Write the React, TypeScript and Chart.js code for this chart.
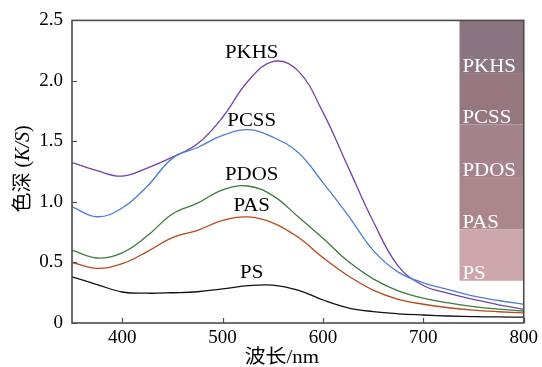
import React, { useEffect, useRef } from "react";
import { Chart, registerables } from "chart.js";

Chart.register(...registerables);

const wavelengths = [350, 375, 400, 425, 450, 475, 500, 525, 550, 575, 600, 625, 650, 675, 700, 725, 750, 775, 800];
const psValues = [0.382, 0.318, 0.256, 0.246, 0.25, 0.258, 0.282, 0.308, 0.313, 0.272, 0.19, 0.125, 0.094, 0.076, 0.066, 0.058, 0.053, 0.05, 0.048];
const pasValues = [0.5, 0.452, 0.49, 0.59, 0.705, 0.765, 0.848, 0.876, 0.828, 0.71, 0.54, 0.39, 0.272, 0.196, 0.155, 0.126, 0.106, 0.093, 0.083];
const pdosValues = [0.602, 0.537, 0.58, 0.72, 0.9, 0.99, 1.1, 1.132, 1.052, 0.88, 0.7, 0.51, 0.365, 0.266, 0.205, 0.166, 0.136, 0.115, 0.099];
const pcssValues = [0.96, 0.878, 0.95, 1.13, 1.36, 1.45, 1.55, 1.597, 1.535, 1.41, 1.16, 0.89, 0.6, 0.42, 0.332, 0.276, 0.222, 0.186, 0.154];
const pkhsValues = [1.326, 1.258, 1.213, 1.28, 1.37, 1.48, 1.7, 1.995, 2.16, 2.085, 1.74, 1.29, 0.84, 0.47, 0.31, 0.245, 0.196, 0.15, 0.113];

const seriesNames = ["PS", "PAS", "PDOS", "PCSS", "PKHS"];
const seriesColors = ["#111111", "#b84a1c", "#3e7b3e", "#4a7fd6", "#7443a6"];
const seriesValues = [psValues, pasValues, pdosValues, pcssValues, pkhsValues];

// curve label anchors (wavelength, K/S at text baseline)
const labelX = [529, 529, 529, 529, 529];
const labelY = [0.369, 0.927, 1.18, 1.625, 2.19];

const xTicks = [400, 500, 600, 700, 800];
const yTicks = [0, 0.5, 1.0, 1.5, 2.0, 2.5];

// colour swatches on the right
const swatchNames = ["PKHS", "PCSS", "PDOS", "PAS", "PS"];
const swatchColors = ["#8a7581", "#97777f", "#a4848a", "#ab878c", "#cca6aa"];
const swatchRangeX = [736, 800];
const swatchTop = [2.5, 2.065, 1.639, 1.206, 0.773];
const swatchBottom = [2.065, 1.639, 1.206, 0.773, 0.349];

const SERIF = '"Liberation Serif", "Noto Sans CJK SC", serif';

function drawText(ctx: CanvasRenderingContext2D, text: string, x: number, y: number, font: string, align: CanvasTextAlign, color: string, sx = 1.1) {
  ctx.save();
  ctx.font = font;
  ctx.fillStyle = color;
  ctx.textBaseline = "alphabetic";
  const w = ctx.measureText(text).width * sx;
  let x0 = x;
  if (align === "center") x0 = x - w / 2;
  else if (align === "right") x0 = x - w;
  ctx.translate(x0, y);
  ctx.scale(sx, 1);
  ctx.textAlign = "left";
  ctx.fillText(text, 0, 0);
  ctx.restore();
}

const overlayPlugin = {
  id: "overlay",
  beforeDatasetsDraw(chart: any) {
    const { ctx } = chart;
    const xs = chart.scales.x;
    const ys = chart.scales.y;
    const x0 = xs.getPixelForValue(swatchRangeX[0]);
    const x1 = xs.getPixelForValue(swatchRangeX[1]);
    swatchNames.forEach((name, i) => {
      const t = ys.getPixelForValue(swatchTop[i]);
      const b = ys.getPixelForValue(swatchBottom[i]);
      ctx.save();
      ctx.fillStyle = swatchColors[i];
      ctx.fillRect(x0, t, x1 - x0, b - t);
      ctx.restore();
      drawText(ctx, name, x0 + 3, b - 1.5, `19px ${SERIF}`, "left", "#ffffff");
    });
  },
  afterDraw(chart: any) {
    const { ctx, chartArea } = chart;
    const xs = chart.scales.x;
    const ys = chart.scales.y;
    // curve labels
    seriesNames.forEach((name, i) => {
      drawText(ctx, name, xs.getPixelForValue(labelX[i]), ys.getPixelForValue(labelY[i]), `19px ${SERIF}`, "center", "#000000");
    });
    // frame
    ctx.save();
    ctx.strokeStyle = "#4d4d4d";
    ctx.lineWidth = 1.6;
    ctx.strokeRect(chartArea.left, chartArea.top, chartArea.right - chartArea.left, chartArea.bottom - chartArea.top);
    // inward tick marks
    ctx.lineWidth = 1.2;
    ctx.beginPath();
    xTicks.forEach((v) => {
      const px = Math.round(xs.getPixelForValue(v)) + 0.5;
      ctx.moveTo(px, chartArea.bottom);
      ctx.lineTo(px, chartArea.bottom - 5);
    });
    yTicks.forEach((v) => {
      const py = Math.round(ys.getPixelForValue(v)) + 0.5;
      ctx.moveTo(chartArea.left, py);
      ctx.lineTo(chartArea.left + 5, py);
    });
    ctx.stroke();
    ctx.restore();
    // x title
    drawText(ctx, "波长/nm", (chartArea.left + chartArea.right) / 2 - 16, 363, `19px ${SERIF}`, "center", "#000000");
    // y title with italic K/S
    ctx.save();
    ctx.translate(29, 169);
    ctx.rotate(-Math.PI / 2);
    const parts = [
      { t: "色深 (", f: `20px ${SERIF}` },
      { t: "K/S", f: `italic 20px ${SERIF}` },
      { t: ")", f: `20px ${SERIF}` },
    ];
    let total = 0;
    parts.forEach((p) => {
      ctx.font = p.f;
      total += ctx.measureText(p.t).width;
    });
    let cx = -total / 2;
    ctx.fillStyle = "#000000";
    ctx.textBaseline = "alphabetic";
    parts.forEach((p) => {
      ctx.font = p.f;
      ctx.fillText(p.t, cx, 0);
      cx += ctx.measureText(p.t).width;
    });
    ctx.restore();
  },
};

export default function App() {
  const canvasRef = useRef<HTMLCanvasElement | null>(null);

  useEffect(() => {
    if (!canvasRef.current) return;
    const chart = new Chart(canvasRef.current, {
      type: "line",
      data: {
        datasets: seriesNames.map((name, i) => ({
          label: name,
          data: wavelengths.map((w, j) => ({ x: w, y: seriesValues[i][j] })),
          borderColor: seriesColors[i],
          backgroundColor: seriesColors[i],
          borderWidth: 1.3,
          pointRadius: 0,
          fill: false,
          tension: 0.4,
        })),
      },
      options: {
        responsive: false,
        animation: false,
        layout: { padding: { top: 20, right: 16, left: 0, bottom: 0 } },
        plugins: {
          legend: { display: false },
          tooltip: { enabled: false },
        },
        scales: {
          x: {
            type: "linear",
            min: 350,
            max: 800,
            afterBuildTicks: (scale: any) => {
              scale.ticks = xTicks.map((v) => ({ value: v }));
            },
            afterFit: (scale: any) => {
              scale.height = 44;
            },
            grid: { display: false, drawTicks: false },
            border: { display: false },
            ticks: {
              padding: 4,
              color: "#000000",
              font: { family: SERIF, size: 19 },
              maxRotation: 0,
              autoSkip: false,
            },
          },
          y: {
            type: "linear",
            min: 0,
            max: 2.5,
            afterBuildTicks: (scale: any) => {
              scale.ticks = yTicks.map((v) => ({ value: v }));
            },
            afterFit: (scale: any) => {
              scale.width = 72;
            },
            grid: { display: false, drawTicks: false },
            border: { display: false },
            ticks: {
              padding: 9,
              color: "#000000",
              font: { family: SERIF, size: 19 },
              autoSkip: false,
              callback: (v: any) => (Number(v) === 0 ? "0" : Number(v).toFixed(1)),
            },
          },
        },
      },
      plugins: [overlayPlugin],
    });
    let alive = true;
    const fonts = (document as any).fonts;
    if (fonts && fonts.load) {
      Promise.all([
        fonts.load('19px "Liberation Serif"'),
        fonts.load('italic 20px "Liberation Serif"'),
        fonts.load('20px "Noto Sans CJK SC"', "色深波长"),
      ])
        .then(() => {
          if (alive) chart.update();
        })
        .catch(() => {});
    }
    return () => {
      alive = false;
      chart.destroy();
    };
  }, []);

  return (
    <div style={{ position: "fixed", left: 0, top: 0, width: 542, height: 367, background: "#ffffff" }}>
      <canvas ref={canvasRef} width={542} height={367} style={{ display: "block", width: 542, height: 367 }} />
    </div>
  );
}
